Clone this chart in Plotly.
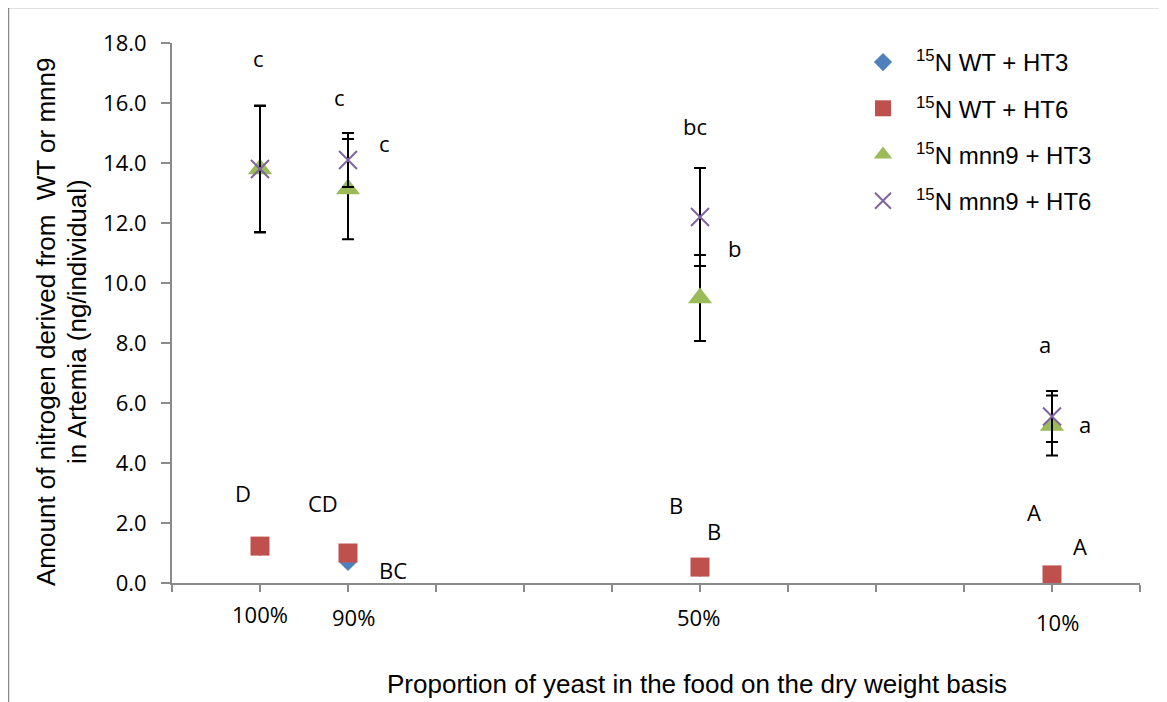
import plotly.graph_objects as go

# ---------------- data ----------------
proportion = [100, 90, 50, 10]            # % yeast in food (x positions)
x_tick_labels = ["100%", "90%", "50%", "10%"]
x_ticks_all = [0, 10, 20, 30, 40, 50, 60, 70, 80, 90, 100, 110]
y_ticks = [0, 2, 4, 6, 8, 10, 12, 14, 16, 18]

wt_ht3 = [1.20, 0.70, 0.50, 0.25]
wt_ht6 = [1.23, 1.00, 0.53, 0.27]
mnn9_ht3 = [13.80, 13.13, 9.50, 5.25]
mnn9_ht3_err = [2.12, 1.67, 1.43, 1.00]
mnn9_ht6 = [13.80, 14.10, 12.20, 5.55]
mnn9_ht6_err = [2.10, 0.90, 1.63, 0.85]

series_names = ["<sup>15</sup>N WT + HT3", "<sup>15</sup>N WT + HT6",
                "<sup>15</sup>N mnn9 + HT3", "<sup>15</sup>N mnn9 + HT6"]

# significance letters (text, x, y in data units)
letters = ["c", "c", "c", "bc", "b", "a", "a", "D", "CD", "BC", "B", "B", "A", "A"]
letter_x = [100.2, 91.0, 85.8, 50.6, 46.1, 10.8, 6.2, 101.9, 92.8, 84.9, 52.7, 48.4, 12.1, 6.8]
letter_y = [17.5, 16.2, 14.67, 15.23, 11.17, 7.97, 5.3, 3.0, 2.67, 0.43, 2.6, 1.73, 2.37, 1.23]

# ---------------- figure ----------------
OFF = 8                     # page offset of the figure (body margin)
W, H = 1167 - OFF, 702 - OFF
PL, PR, PT, PB = 172, 1140, 43, 583   # plot area in page pixels
L, R, T, B = PL - OFF, W - (PR - OFF), PT - OFF, H - (PB - OFF)
pw, ph = W - L - R, H - T - B


def px(xp):
    return (xp - PL) / pw


def py(yp):
    return (PB - yp) / ph


AXIS_COLOR = "#8a8a8a"
TICK_FONT = dict(family="Open Sans", size=22, color="#000000")

fig = go.Figure()

err_style = dict(type="data", visible=True, color="#000000", thickness=2, width=6)

fig.add_trace(go.Scatter(
    x=proportion, y=wt_ht3, mode="markers", name=series_names[0],
    legendgroup="g1",
    marker=dict(symbol="diamond", size=14, color="#4F81BD")))
fig.add_trace(go.Scatter(
    x=proportion, y=wt_ht6, mode="markers", name=series_names[1],
    legendgroup="g2",
    marker=dict(symbol="square", size=19, color="#C0504D")))
fig.add_trace(go.Scatter(
    x=proportion, y=mnn9_ht3, mode="markers", name=series_names[2],
    legendgroup="g3",
    error_y=dict(array=mnn9_ht3_err, **err_style),
    marker=dict(symbol="triangle-up", size=21, color="#9BBB59")))
fig.add_trace(go.Scatter(
    x=proportion, y=mnn9_ht6, mode="markers", name=series_names[3],
    legendgroup="g4",
    error_y=dict(array=mnn9_ht6_err, **err_style),
    marker=dict(symbol="x-thin-open", size=18, color="#8064A2",
                line=dict(width=2, color="#8064A2"))))

annotations = []
for t, xv, yv in zip(letters, letter_x, letter_y):
    annotations.append(dict(x=xv, y=yv, xref="x", yref="y", text=t, showarrow=False,
                            font=dict(family="Open Sans", size=22, color="#000000"),
                            xanchor="center", yanchor="middle"))

# x category labels placed under the axis
label_shift = [-31, -34, -34, -39]
label_xshift = [0, 5, -2, 5]
for lab, xv, ys, xs in zip(x_tick_labels, proportion, label_shift, label_xshift):
    annotations.append(dict(x=xv, y=0, xref="x", yref="y", text=lab, showarrow=False,
                            yshift=ys, xshift=xs, font=TICK_FONT,
                            xanchor="center", yanchor="middle"))

TITLE_FONT = dict(family="Liberation Sans, Arial", size=26, color="#000000")
# axis titles
annotations.append(dict(
    x=px(697), y=py(684), xref="paper", yref="paper",
    text="Proportion of yeast in the food on the dry weight basis", showarrow=False,
    font=TITLE_FONT, xanchor="center", yanchor="middle"))
annotations.append(dict(
    x=px(46), y=py(322), xref="paper", yref="paper",
    text="Amount of nitrogen derived from  WT or mnn9",
    showarrow=False, textangle=-90, font=TITLE_FONT,
    xanchor="center", yanchor="middle"))
annotations.append(dict(
    x=px(77), y=py(322), xref="paper", yref="paper",
    text="in Artemia (ng/individual)",
    showarrow=False, textangle=-90, font=TITLE_FONT,
    xanchor="center", yanchor="middle"))

shapes = [
    dict(type="line", xref="paper", yref="paper",
         x0=px(8), x1=px(1180), y0=py(7.5), y1=py(7.5),
         line=dict(color="#8a8a8a", width=1.5)),
    dict(type="line", xref="paper", yref="paper",
         x0=px(8.5), x1=px(8.5), y0=py(7), y1=py(720),
         line=dict(color="#8a8a8a", width=1.5)),
]

fig.update_layout(
    width=W, height=H,
    margin=dict(l=L, r=R, t=T, b=B),
    paper_bgcolor="white", plot_bgcolor="white",
    showlegend=True,
    legend=dict(x=px(850), y=py(40), xanchor="left", yanchor="top",
                font=dict(family="Liberation Sans, Arial", size=24, color="#000000"),
                bgcolor="rgba(0,0,0,0)", itemwidth=56, tracegroupgap=12),
    xaxis=dict(range=[110, 0], tickvals=x_ticks_all, showticklabels=False,
               ticks="outside", ticklen=7, tickwidth=1.5, tickcolor=AXIS_COLOR,
               showline=True, linecolor=AXIS_COLOR, linewidth=2, showgrid=False,
               zeroline=False),
    yaxis=dict(range=[0, 18], tickvals=y_ticks, tickformat=".1f",
               ticks="outside", ticklen=9, tickwidth=1.5, tickcolor=AXIS_COLOR,
               showline=True, linecolor=AXIS_COLOR, linewidth=2, showgrid=False,
               zeroline=False, tickfont=TICK_FONT, ticklabelstandoff=10),
    annotations=annotations,
    shapes=shapes,
)

fig.write_html("out.html")
